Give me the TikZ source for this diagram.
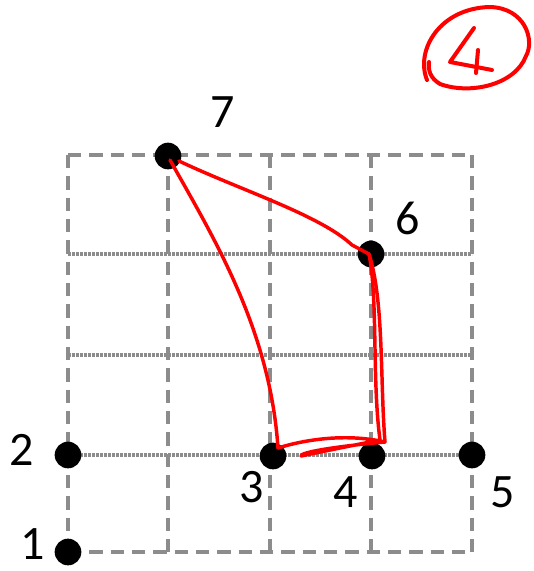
\documentclass[tikz,border=0pt]{standalone}
\usepackage{fontspec}
\setmainfont{Carlito}
\usepackage{tikz}
\usetikzlibrary{arrows.meta,positioning,calc}
\usepackage{xcolor}

\begin{document}
\begin{tikzpicture}[x=0.75pt,y=-0.75pt,
  gridline/.style={black!45,line width=3pt,dash pattern=on 10pt off 6pt},
  fineline/.style={black!45,line width=3pt,dash pattern=on 2pt off 1pt},
  dot/.style={circle,fill=black,inner sep=0pt,minimum size=20pt},
  lbl/.style={font=\fontsize{36}{40}\selectfont,inner sep=0pt},
  ink/.style={red,line width=2.6pt,line cap=round,line join=round}]
\useasboundingbox (0,0) rectangle (533,571);
% grid
\foreach \x in {68,168,270,371,472}
  \draw[gridline] (\x,155) -- (\x,552);
\draw[gridline] (68,155) -- (472,155);
\draw[gridline] (68,552) -- (472,552);
\foreach \y in {254,355,455}
  \draw[fineline] (68,\y) -- (472,\y);
% points
\node[dot] (p1) at (68,552) {};
\node[dot] (p2) at (68,455) {};
\node[dot] (p3) at (273,456) {};
\node[dot] (p4) at (372,456) {};
\node[dot] (p5) at (472,455) {};
\node[dot] (p6) at (371,254) {};
\node[dot] (p7) at (168,156) {};
\node[lbl] (n1) at (33,544) {1};
\node[lbl] (n2) at (22,450) {2};
\node[lbl] (n3) at (252,487) {3};
\node[lbl] (n4) at (346,492) {4};
\node[lbl] (n5) at (503,492) {5};
\node[lbl] (n6) at (408,218) {6};
\node[lbl] (n7) at (223,112) {7};
% red strokes
\coordinate (a7) at ($(p7)+(11,5)$);
\coordinate (b7) at ($(p7)+(2,4)$);
\coordinate (a6) at ($(p6)+(-2,0)$);
\coordinate (a3) at ($(p3)+(5,-8)$);
\coordinate (a4) at ($(p4)+(8,-16)$);
\coordinate (b4) at ($(p4)+(13,-14)$);
\draw[ink] (a7) .. controls (240,190) and (320,215) .. (352,245) -- (a6);
\draw[ink] (a6) .. controls (378,300) and (372,380) .. (a4);
\draw[ink] (a6) .. controls (384,300) and (380,380) .. (b4);
\draw[ink] (b7) .. controls (215,240) and (270,330) .. (a3);
\draw[ink] (a3) .. controls (310,438) and (350,434) .. (b4)
  .. controls (340,446) and (300,452) .. (301,456)
  .. controls (320,452) and (350,446) .. (a4);
% score mark
\draw[ink,line width=3pt] (427,80) .. controls (415,50) and (440,8) .. (490,7)
  .. controls (525,8) and (535,40) .. (526,56)
  .. controls (515,85) and (470,95) .. (440,84)
  .. controls (430,78) and (428,70) .. (429,62);
\draw[ink,line width=3pt] (474,28) -- (450,62) -- (492,70);
\draw[ink,line width=3pt] (478,50) -- (476,73);
\end{tikzpicture}
\end{document}
